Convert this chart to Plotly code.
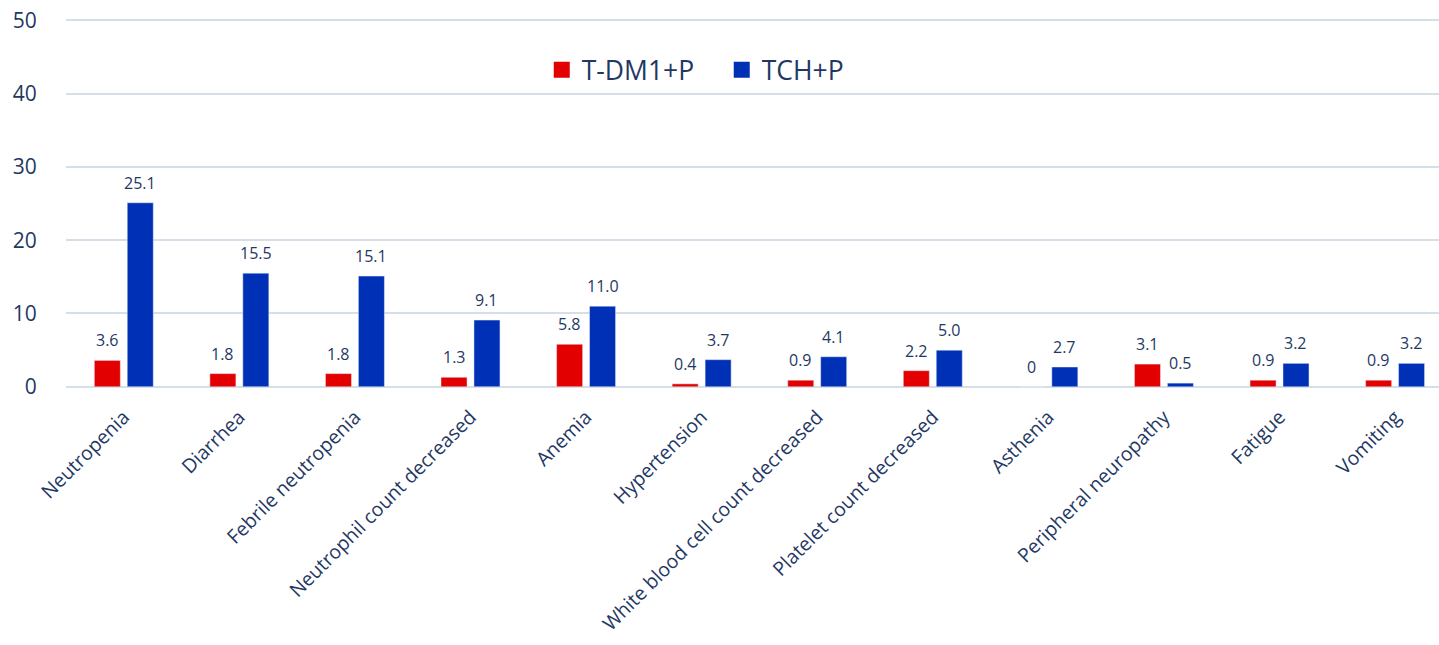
import plotly.graph_objects as go

categories = [
    "Neutropenia", "Diarrhea", "Febrile neutropenia", "Neutrophil count decreased",
    "Anemia", "Hypertension", "White blood cell count decreased",
    "Platelet count decreased", "Asthenia", "Peripheral neuropathy",
    "Fatigue", "Vomiting",
]
tdm1_p = [3.6, 1.8, 1.8, 1.3, 5.8, 0.4, 0.9, 2.2, 0, 3.1, 0.9, 0.9]
tch_p = [25.1, 15.5, 15.1, 9.1, 11.0, 3.7, 4.1, 5.0, 2.7, 0.5, 3.2, 3.2]
y_ticks = [0, 10, 20, 30, 40, 50]

FONT = "Open Sans"
TEXT_COLOR = "#1F3864"
GRID_COLOR = "#D6DEE8"
RED = "#E30000"
BLUE = "#0030B5"

# layout geometry
W, H = 1439, 645
M_L, M_R, M_T, M_B = 66, 0, 18, 256
X_RANGE = [-0.5, 11.38]
BARGAP = 0.43
BARGROUPGAP = 0.21

cat_px = (W - M_L - M_R) / (X_RANGE[1] - X_RANGE[0])
slot_px = cat_px * (1 - BARGAP) / 2
offsets = {"T-DM1+P": -slot_px / 2, "TCH+P": slot_px / 2}


def fmt(v):
    return "0" if v == 0 else f"{v:.1f}"


fig = go.Figure()
series = [("T-DM1+P", tdm1_p, RED), ("TCH+P", tch_p, BLUE)]
for name, vals, color in series:
    fig.add_trace(go.Bar(
        name=name, x=categories, y=vals, marker_color=color,
        showlegend=False,
    ))
    # value labels above each bar
    for cat, v in zip(categories, vals):
        fig.add_annotation(
            x=cat, y=v, text=fmt(v), showarrow=False,
            xanchor="center", yanchor="bottom",
            xshift=offsets[name], yshift=7,
            font=dict(size=16, color=TEXT_COLOR, family=FONT),
        )

# legend entries with square swatches
for name, _, color in series:
    fig.add_trace(go.Scatter(
        name=name, x=[None], y=[None], mode="markers",
        marker=dict(symbol="square", size=18, color=color),
    ))

fig.update_layout(
    width=W, height=H,
    margin=dict(l=M_L, r=M_R, t=M_T, b=M_B),
    plot_bgcolor="white", paper_bgcolor="white",
    font=dict(family=FONT, color=TEXT_COLOR),
    barmode="group", bargap=BARGAP, bargroupgap=BARGROUPGAP,
    showlegend=True,
    legend=dict(
        orientation="h", x=0.3465, y=0.86, xanchor="left", yanchor="middle",
        font=dict(size=26.5, color=TEXT_COLOR, family=FONT),
        bgcolor="rgba(255,255,255,0)", itemwidth=30,
        entrywidth=135, entrywidthmode="pixels",
    ),
)
fig.update_xaxes(
    range=X_RANGE, tickangle=-45, automargin=False,
    tickfont=dict(size=19.5, color=TEXT_COLOR, family=FONT),
    showgrid=False, showline=False,
    ticks="outside", ticklen=8, tickcolor="rgba(0,0,0,0)",
)
fig.update_yaxes(
    range=[-0.3, 50.3], tickvals=y_ticks, automargin=False,
    tickfont=dict(size=21, color=TEXT_COLOR, family=FONT),
    showgrid=True, gridcolor=GRID_COLOR, gridwidth=1.5,
    zeroline=True, zerolinecolor=GRID_COLOR, zerolinewidth=1.5,
    showline=False, ticks="outside", ticklen=24, tickcolor="rgba(0,0,0,0)",
)

fig.write_html("out.html")
